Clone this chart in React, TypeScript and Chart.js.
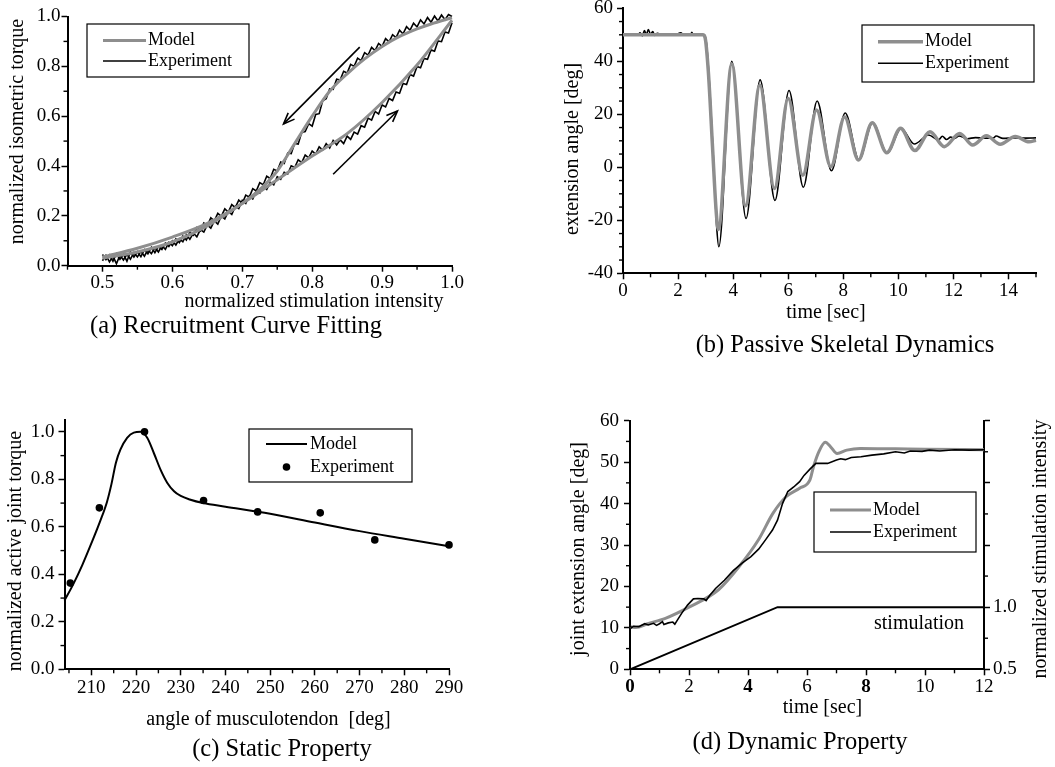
import React, { useEffect, useRef } from "react";
import { Chart, registerables } from "chart.js";
Chart.register(...registerables);

// ---------------- data ----------------
// (a) Recruitment curve fitting
const aModelUpX = [0.5, 0.55, 0.6, 0.65, 0.7, 0.75, 0.8, 0.85, 0.9, 0.95, 1.0];
const aModelUpY = [0.035, 0.07, 0.115, 0.17, 0.25, 0.345, 0.44, 0.53, 0.655, 0.805, 0.985];
const aModelDownX = [0.5, 0.55, 0.6, 0.65, 0.7, 0.725, 0.75, 0.775, 0.8, 0.825, 0.85, 0.875, 0.9, 0.925, 0.95, 0.97, 1.0];
const aModelDownY = [0.03, 0.055, 0.095, 0.16, 0.25, 0.305, 0.38, 0.49, 0.6, 0.7, 0.77, 0.83, 0.88, 0.92, 0.95, 0.97, 0.995];
const aExpX = [
  0.5, 0.505, 0.51, 0.515, 0.52, 0.525, 0.53, 0.535, 0.54, 0.545, 0.55, 0.555, 0.56, 0.565, 0.57, 0.575, 0.58, 0.585, 0.59, 0.595,
  0.6, 0.605, 0.61, 0.615, 0.62, 0.625, 0.63, 0.635, 0.64, 0.645, 0.65, 0.655, 0.66, 0.665, 0.67, 0.675, 0.68, 0.685, 0.69, 0.695,
  0.7, 0.705, 0.71, 0.715, 0.72, 0.725, 0.73, 0.735, 0.74, 0.745, 0.75, 0.755, 0.76, 0.765, 0.77, 0.775, 0.78, 0.785, 0.79, 0.795,
  0.8, 0.805, 0.81, 0.815, 0.82, 0.825, 0.83, 0.835, 0.84, 0.845, 0.85, 0.855, 0.86, 0.865, 0.87, 0.875, 0.88, 0.885, 0.89, 0.895,
  0.9, 0.905, 0.91, 0.915, 0.92, 0.925, 0.93, 0.935, 0.94, 0.945, 0.95, 0.955, 0.96, 0.965, 0.97, 0.975, 0.98, 0.985, 0.99, 0.995,
  1.0,
];
const aExpUpY = [
  0.045, 0.024, 0.043, 0.018, 0.048, 0.026, 0.046, 0.018, 0.055, 0.035, 0.056, 0.036, 0.064, 0.048, 0.074, 0.052, 0.077, 0.065, 0.091, 0.077,
  0.1, 0.083, 0.108, 0.096, 0.124, 0.106, 0.131, 0.116, 0.145, 0.135, 0.164, 0.151, 0.18, 0.167, 0.2, 0.188, 0.218, 0.206, 0.238, 0.229,
  0.262, 0.25, 0.28, 0.268, 0.3, 0.291, 0.319, 0.306, 0.334, 0.325, 0.357, 0.347, 0.375, 0.368, 0.401, 0.394, 0.425, 0.414, 0.444, 0.433,
  0.46, 0.448, 0.477, 0.464, 0.49, 0.472, 0.502, 0.485, 0.505, 0.49, 0.52, 0.507, 0.536, 0.528, 0.562, 0.556, 0.592, 0.584, 0.619, 0.609,
  0.645, 0.637, 0.671, 0.663, 0.697, 0.692, 0.731, 0.727, 0.767, 0.761, 0.799, 0.794, 0.832, 0.828, 0.866, 0.861, 0.902, 0.899, 0.938, 0.934,
  0.975,
];
const aExpDownY = [
  0.02, 0.042, 0.015, 0.038, 0.008, 0.042, 0.023, 0.046, 0.026, 0.052, 0.035, 0.058, 0.038, 0.064, 0.048, 0.073, 0.055, 0.081, 0.066, 0.094,
  0.08, 0.108, 0.093, 0.119, 0.103, 0.134, 0.122, 0.153, 0.14, 0.171, 0.161, 0.192, 0.18, 0.21, 0.198, 0.228, 0.215, 0.245, 0.233, 0.263,
  0.25, 0.283, 0.275, 0.309, 0.3, 0.333, 0.325, 0.359, 0.35, 0.387, 0.38, 0.416, 0.41, 0.452, 0.45, 0.491, 0.488, 0.535, 0.538, 0.57,
  0.56, 0.607, 0.61, 0.662, 0.67, 0.71, 0.708, 0.748, 0.745, 0.78, 0.773, 0.808, 0.8, 0.833, 0.823, 0.855, 0.845, 0.876, 0.863, 0.892,
  0.88, 0.911, 0.898, 0.927, 0.915, 0.945, 0.93, 0.959, 0.945, 0.973, 0.958, 0.986, 0.97, 0.996, 0.977, 1.002, 0.982, 1.006, 0.987, 1.008,
  1.0,
];

// (b) Passive skeletal dynamics
const bModelT = [0, 2.9, 2.98, 3.1, 3.25, 3.38, 3.46, 3.95, 4.45, 4.97, 5.5, 6.0, 6.53, 7.03, 7.55, 8.05, 8.55, 9.05, 9.58, 10.08, 10.6, 11.15, 11.67, 12.23, 12.7, 13.2, 13.7, 14.25, 14.75, 15];
const bModelV = [50, 50, 49, 36, 8, -16, -23.5, 39, -14.5, 31, -8, 26, -3, 21.6, 0.2, 19, 2.8, 16.8, 5.5, 14.7, 6.3, 13.4, 7.8, 12.8, 8.4, 11.9, 8.7, 11.6, 9.6, 10.2];
const bExpT = [
  0, 0.55, 0.62, 0.7, 0.78, 0.85, 0.92, 1.0, 1.08, 1.15, 1.25, 1.4, 1.9, 2.1, 2.2, 2.45, 2.5, 2.55, 2.95, 3.03,
  3.15, 3.3, 3.4, 3.48, 3.95, 4.47, 4.98, 5.52, 6.03, 6.55, 7.05, 7.57, 8.07, 8.57, 9.07, 9.6, 10.1, 10.58, 11.1, 11.45,
  11.6, 11.75, 11.9, 12.05, 12.2, 12.5, 12.8, 13.1, 13.45, 13.55, 13.8, 14.2, 14.6, 15,
];
const bExpV = [
  50, 50, 50.8, 49.6, 51.6, 50, 52, 50.2, 51.2, 49.8, 50.6, 50, 50, 50.8, 50, 50, 50.9, 50, 50, 47,
  30, 0, -22, -30, 40, -19.3, 33, -12.5, 29, -7.5, 25, -1.3, 20.5, 2.8, 16.8, 5.3, 14.7, 8.8, 12.2, 10.3,
  11.7, 10.5, 11.4, 10.9, 11.8, 10.8, 11.2, 11.0, 11.0, 11.8, 10.9, 11.1, 11.0, 11.1,
];

// (c) Static property
const cModelX = [204, 206, 208, 210, 212, 213.5, 214.5, 215.5, 216.5, 218, 219.5, 221, 222.5, 224, 225.5, 227, 228.5, 230, 232, 235, 240, 250, 260, 270, 280, 290];
const cModelY = [0.29, 0.36, 0.44, 0.53, 0.625, 0.705, 0.78, 0.87, 0.925, 0.975, 0.997, 1.0, 0.975, 0.91, 0.84, 0.785, 0.75, 0.73, 0.715, 0.7, 0.685, 0.655, 0.618, 0.582, 0.55, 0.518];
const cExpX = [205.3, 211.8, 221.9, 235.1, 247.2, 261.2, 273.4, 290];
const cExpY = [0.363, 0.68, 1.0, 0.711, 0.663, 0.659, 0.545, 0.524];

// (d) Dynamic property
const dModelT = [0, 0.2, 0.6, 1.2, 2.0, 3.0, 3.7, 4.35, 4.85, 5.3, 5.75, 6.1, 6.22, 6.4, 6.62, 6.8, 7.02, 7.35, 7.8, 9, 10, 12];
const dModelV = [10.3, 10.1, 11.0, 12.3, 15.0, 19.2, 24.8, 31.2, 37.7, 41.7, 43.7, 45.7, 48.9, 52.5, 54.8, 53.7, 52.1, 52.9, 53.3, 53.2, 53.1, 53.0];
const dExpT = [
  0, 0.05, 0.12, 0.3, 0.5, 0.62, 0.8, 0.9, 1.0, 1.1, 1.15, 1.3, 1.45, 1.52, 1.6, 1.75, 1.95, 2.15, 2.3, 2.5,
  2.58, 2.7, 2.9, 3.2, 3.5, 3.8, 4.1, 4.36, 4.6, 4.83, 5.0, 5.17, 5.35, 5.55, 5.75, 5.9, 6.1, 6.3, 6.7, 7.0,
  7.14, 7.3, 7.5, 7.83, 8.2, 8.6, 9.0, 9.3, 9.5, 9.9, 10.15, 10.5, 11, 11.5, 12,
];
const dExpV = [
  10.6, 10.0, 10.4, 10.3, 11.0, 10.7, 11.1, 10.6, 11.0, 11.5, 10.8, 11.2, 11.4, 10.9, 11.8, 13.5, 15.5, 17.0, 17.1, 17.0,
  16.6, 17.8, 19.5, 21.5, 23.8, 25.6, 27.2, 29.0, 31.3, 33.6, 36.0, 40.0, 42.9, 44.0, 45.3, 46.8, 48.3, 49.7, 49.7, 50.5,
  50.8, 50.6, 51.1, 51.3, 51.7, 52.0, 52.5, 52.2, 52.7, 52.6, 52.9, 52.7, 53.0, 52.9, 53.0,
];
const dStimT = [0, 5, 12];
const dStimV = [0.5, 1.0, 1.0];

// tick values
const aXMajor = [0.5, 0.6, 0.7, 0.8, 0.9, 1.0];
const aXMinor = [0.45, 0.55, 0.65, 0.75, 0.85, 0.95];
const aYMajor = [0, 0.2, 0.4, 0.6, 0.8, 1.0];
const aYMinor = [0.1, 0.3, 0.5, 0.7, 0.9];
const bXMajor = [0, 2, 4, 6, 8, 10, 12, 14];
const bXMinor = [1, 3, 5, 7, 9, 11, 13, 15];
const bYMajor = [-40, -20, 0, 20, 40, 60];
const bYMinor = [-35, -30, -25, -15, -10, -5, 5, 10, 15, 25, 30, 35, 45, 50, 55];
const cXMajor = [210, 220, 230, 240, 250, 260, 270, 280, 290];
const cXMinor = [205, 215, 225, 235, 245, 255, 265, 275, 285];
const cYMajor = [0, 0.2, 0.4, 0.6, 0.8, 1.0];
const cYMinor = [0.1, 0.3, 0.5, 0.7, 0.9];
const dXMajor = [0, 2, 4, 6, 8, 10, 12];
const dXBold = [0, 4, 8];
const dXMinor = [1, 3, 5, 7, 9, 11];
const dYMajor = [0, 10, 20, 30, 40, 50, 60];
const dYMinor = [5, 15, 25, 35, 45, 55];
const dY2Major = [0.5, 1.0, 1.5, 2.0, 2.5];
const dY2Labeled = [0.5, 1.0];
const dY2Minor = [0.75, 1.25, 1.75, 2.25];

// ---------------- styling / layout ----------------
const PAGE_W = 1055;
const PAGE_H = 767;
const OFF = 50;
const CW = PAGE_W + 2 * OFF;
const CH = PAGE_H + 2 * OFF;
const SERIF = '"Liberation Serif", "Times New Roman", Times, serif';
const GRAY = "#8e8e8e";
const INK = "#000";
const TICK = 19;
const TITLE = 20;
const CAP = 24.5;
const LEG = 18;

const pts = (xs: number[], ys: number[]) => xs.map((x, i) => ({ x, y: ys[i] }));

type Txt = { t: string; x: number; y: number; size: number; rot?: number; weight?: string };
type Deco = {
  minor?: { axis: string; values: number[]; len: number }[];
  texts?: Txt[];
  legend?: { box: [number, number, number, number]; x1: number; x2: number; tx: number; rows: { ds: number; y: number }[] };
  arrows?: { from: [number, number]; to: [number, number] }[];
};

function decoPlugin(d: Deco) {
  return {
    id: "deco",
    afterDraw(chart: any) {
      const ctx = chart.ctx as CanvasRenderingContext2D;
      ctx.save();
      ctx.strokeStyle = INK;
      ctx.fillStyle = INK;
      (d.minor || []).forEach((m) => {
        const s = chart.scales[m.axis];
        ctx.lineWidth = 1.4;
        m.values.forEach((v) => {
          const p = s.getPixelForValue(v);
          ctx.beginPath();
          if (s.isHorizontal()) {
            ctx.moveTo(p, s.top);
            ctx.lineTo(p, s.top + m.len);
          } else if (s.position === "left") {
            ctx.moveTo(s.right, p);
            ctx.lineTo(s.right - m.len, p);
          } else {
            ctx.moveTo(s.left, p);
            ctx.lineTo(s.left + m.len, p);
          }
          ctx.stroke();
        });
      });
      (d.arrows || []).forEach((a) => {
        const xs = chart.scales.x;
        const ys = chart.scales.y;
        const x1 = xs.getPixelForValue(a.from[0]);
        const y1 = ys.getPixelForValue(a.from[1]);
        const x2 = xs.getPixelForValue(a.to[0]);
        const y2 = ys.getPixelForValue(a.to[1]);
        ctx.lineWidth = 1.6;
        ctx.beginPath();
        ctx.moveTo(x1, y1);
        ctx.lineTo(x2, y2);
        ctx.stroke();
        const ang = Math.atan2(y2 - y1, x2 - x1);
        const L = 12;
        const sp = 0.38;
        ctx.beginPath();
        ctx.moveTo(x2 - L * Math.cos(ang - sp), y2 - L * Math.sin(ang - sp));
        ctx.lineTo(x2, y2);
        ctx.lineTo(x2 - L * Math.cos(ang + sp), y2 - L * Math.sin(ang + sp));
        ctx.stroke();
      });
      ctx.translate(OFF, OFF);
      if (d.legend) {
        const g = d.legend;
        const [bx1, by1, bx2, by2] = g.box;
        ctx.fillStyle = "#fff";
        ctx.fillRect(bx1, by1, bx2 - bx1, by2 - by1);
        ctx.strokeStyle = INK;
        ctx.lineWidth = 1.2;
        ctx.strokeRect(bx1, by1, bx2 - bx1, by2 - by1);
        g.rows.forEach((r) => {
          const ds = chart.data.datasets[r.ds];
          if (ds.showLine === false) {
            ctx.fillStyle = ds.pointBackgroundColor || INK;
            ctx.beginPath();
            ctx.arc((g.x1 + g.x2) / 2, r.y, ds.pointRadius || 3, 0, Math.PI * 2);
            ctx.fill();
          } else {
            ctx.strokeStyle = ds.borderColor;
            ctx.lineWidth = ds.borderWidth;
            ctx.beginPath();
            ctx.moveTo(g.x1, r.y);
            ctx.lineTo(g.x2, r.y);
            ctx.stroke();
          }
          ctx.fillStyle = INK;
          ctx.font = `${LEG}px ${SERIF}`;
          ctx.textAlign = "left";
          ctx.textBaseline = "middle";
          ctx.fillText(ds.label, g.tx, r.y);
        });
      }
      (d.texts || []).forEach((t) => {
        ctx.save();
        ctx.fillStyle = INK;
        ctx.font = `${t.weight || "normal"} ${t.size}px ${SERIF}`;
        ctx.textAlign = "center";
        ctx.textBaseline = "middle";
        ctx.translate(t.x, t.y);
        if (t.rot) ctx.rotate(t.rot);
        ctx.fillText(t.t, 0, 0);
        ctx.restore();
      });
      ctx.restore();
    },
  };
}

function axis(min: number, max: number, majors: number[], fmt: (v: number) => string, extra: any = {}) {
  return {
    type: "linear",
    min,
    max,
    afterBuildTicks: (s: any) => {
      s.ticks = majors.map((v) => ({ value: v }));
    },
    ticks: {
      callback: (v: any) => fmt(Number(v)),
      font: { family: SERIF, size: TICK },
      color: INK,
      padding: 1,
      maxRotation: 0,
      minRotation: 0,
      autoSkip: false,
    },
    grid: { display: true, drawOnChartArea: false, drawTicks: true, tickLength: 6, tickColor: INK, tickWidth: 1.5 },
    border: { display: true, color: INK, width: 2 },
    ...extra,
  };
}

const tickOpts = (fmt: (v: number) => string, padding: number, extra: any = {}) => ({
  callback: (v: any) => fmt(Number(v)),
  font: { family: SERIF, size: TICK },
  color: INK,
  padding,
  maxRotation: 0,
  minRotation: 0,
  autoSkip: false,
  ...extra,
});

type Area = { L: number; R: number; T: number; B: number; right2?: number };

function frame(a: Area) {
  const r2 = a.right2 || 0;
  return {
    padding: { left: OFF, top: OFF + a.T, right: CW - (OFF + a.R) - r2, bottom: 0 },
    xFit: (s: any) => {
      s.height = CH - (OFF + a.B);
    },
    yFit: (s: any) => {
      s.width = a.L;
    },
    y2Fit: (s: any) => {
      s.width = r2;
    },
  };
}

const baseOpts = (padding: any) => ({
  animation: false,
  responsive: false,
  devicePixelRatio: 1,
  events: [],
  layout: { padding },
  plugins: { legend: { display: false }, tooltip: { enabled: false } },
});

const f1 = (v: number) => v.toFixed(1);
const f0 = (v: number) => String(Math.round(v));

function configA(): any {
  const fr = frame({ L: 67.5, R: 452, T: 16.5, B: 265.7 });
  return {
    type: "line",
    data: {
      datasets: [
        { label: "Model", data: pts(aModelUpX, aModelUpY), borderColor: GRAY, borderWidth: 3, pointRadius: 0, cubicInterpolationMode: "monotone", clip: false },
        { label: "Model", data: pts(aModelDownX, aModelDownY), borderColor: GRAY, borderWidth: 3, pointRadius: 0, cubicInterpolationMode: "monotone", clip: false },
        { label: "Experiment", data: pts(aExpX, aExpUpY), borderColor: INK, borderWidth: 1.6, pointRadius: 0, tension: 0, clip: false },
        { label: "Experiment", data: pts(aExpX, aExpDownY), borderColor: INK, borderWidth: 1.6, pointRadius: 0, tension: 0, clip: false },
      ],
    },
    options: {
      ...baseOpts(fr.padding),
      scales: {
        x: axis(0.45, 1.0, aXMajor, f1, { afterFit: fr.xFit, ticks: tickOpts(f1, 0) }),
        y: axis(0, 1.0, aYMajor, f1, { afterFit: fr.yFit, ticks: tickOpts(f1, 1) }),
      },
    },
    plugins: [
      decoPlugin({
        minor: [
          { axis: "x", values: aXMinor, len: 4 },
          { axis: "y", values: aYMinor, len: 4 },
        ],
        arrows: [
          { from: [0.868, 0.877], to: [0.759, 0.569] },
          { from: [0.83, 0.367], to: [0.922, 0.621] },
        ],
        legend: { box: [87, 24, 249, 77], x1: 103, x2: 146, tx: 148, rows: [{ ds: 0, y: 40.5 }, { ds: 2, y: 61 }] },
        texts: [
          { t: "normalized isometric torque", x: 18, y: 131.5, size: TITLE, rot: -Math.PI / 2 },
          { t: "normalized stimulation intensity", x: 314, y: 302, size: TITLE },
          { t: "(a) Recruitment Curve Fitting", x: 236, y: 327, size: CAP },
        ],
      }),
    ],
  };
}

function configB(): any {
  const fr = frame({ L: 623, R: 1036, T: 8.3, B: 273.3 });
  return {
    type: "line",
    data: {
      datasets: [
        { label: "Model", data: pts(bModelT, bModelV), borderColor: GRAY, borderWidth: 3.5, pointRadius: 0, cubicInterpolationMode: "monotone", clip: false },
        { label: "Experiment", data: pts(bExpT, bExpV), borderColor: INK, borderWidth: 1.6, pointRadius: 0, cubicInterpolationMode: "monotone", clip: false },
      ],
    },
    options: {
      ...baseOpts(fr.padding),
      scales: {
        x: axis(0, 15, bXMajor, f0, { afterFit: fr.xFit, ticks: tickOpts(f0, 0) }),
        y: axis(-40, 60, bYMajor, f0, { afterFit: fr.yFit, ticks: tickOpts(f0, 4) }),
      },
    },
    plugins: [
      decoPlugin({
        minor: [
          { axis: "x", values: bXMinor, len: 4 },
          { axis: "y", values: bYMinor, len: 4 },
        ],
        legend: { box: [862, 25, 1034, 82], x1: 878, x2: 923, tx: 925, rows: [{ ds: 0, y: 41.7 }, { ds: 1, y: 63.3 }] },
        texts: [
          { t: "extension angle [deg]", x: 572.5, y: 149, size: TITLE, rot: -Math.PI / 2 },
          { t: "time [sec]", x: 826, y: 313, size: TITLE },
          { t: "(b) Passive Skeletal Dynamics", x: 845, y: 346, size: CAP },
        ],
      }),
    ],
  };
}

function configC(): any {
  const fr = frame({ L: 64.5, R: 449, T: 420, B: 669.3 });
  return {
    type: "line",
    data: {
      datasets: [
        { label: "Model", data: pts(cModelX, cModelY), borderColor: INK, borderWidth: 2, pointRadius: 0, cubicInterpolationMode: "monotone", clip: false },
        { label: "Experiment", data: pts(cExpX, cExpY), showLine: false, pointRadius: 3.8, pointBackgroundColor: INK, pointBorderColor: INK, pointBorderWidth: 0, clip: false },
      ],
    },
    options: {
      ...baseOpts(fr.padding),
      scales: {
        x: axis(204, 290, cXMajor, f0, { afterFit: fr.xFit, ticks: tickOpts(f0, 1) }),
        y: axis(0, 1.05, cYMajor, f1, { afterFit: fr.yFit, ticks: tickOpts(f1, 4) }),
      },
    },
    plugins: [
      decoPlugin({
        minor: [
          { axis: "x", values: cXMinor, len: 4 },
          { axis: "y", values: cYMinor, len: 4 },
        ],
        legend: { box: [249, 429, 412, 482], x1: 266, x2: 307, tx: 310, rows: [{ ds: 0, y: 444 }, { ds: 1, y: 467 }] },
        texts: [
          { t: "normalized active joint torque", x: 16, y: 551, size: TITLE, rot: -Math.PI / 2 },
          { t: "angle of musculotendon  [deg]", x: 268.5, y: 720, size: TITLE },
          { t: "(c) Static Property", x: 282, y: 750, size: CAP },
        ],
      }),
    ],
  };
}

function configD(): any {
  const fr = frame({ L: 630, R: 984, T: 420.7, B: 669.3, right2: 60 });
  const xTicks = tickOpts(f0, 0, {
    font: (c: any) => ({ family: SERIF, size: TICK, weight: c.tick && dXBold.includes(c.tick.value) ? "bold" : "normal" }),
  });
  const y2Fmt = (v: number) => (dY2Labeled.includes(v) ? v.toFixed(1) : "");
  return {
    type: "line",
    data: {
      datasets: [
        { label: "Model", data: pts(dModelT, dModelV), borderColor: GRAY, borderWidth: 3, pointRadius: 0, cubicInterpolationMode: "monotone", clip: false, order: 2 },
        { label: "Experiment", data: pts(dExpT, dExpV), borderColor: INK, borderWidth: 1.6, pointRadius: 0, tension: 0, clip: false, order: 1 },
        { label: "stimulation", data: pts(dStimT, dStimV), yAxisID: "y2", borderColor: INK, borderWidth: 2, pointRadius: 0, tension: 0, clip: false, order: 0 },
      ],
    },
    options: {
      ...baseOpts(fr.padding),
      scales: {
        x: axis(0, 12, dXMajor, f0, { afterFit: fr.xFit, ticks: xTicks }),
        y: axis(0, 60, dYMajor, f0, { afterFit: fr.yFit, ticks: tickOpts(f0, 5) }),
        y2: axis(0.5, 2.5, dY2Major, y2Fmt, { position: "right", afterFit: fr.y2Fit, ticks: tickOpts(y2Fmt, 3) }),
      },
    },
    plugins: [
      decoPlugin({
        minor: [
          { axis: "x", values: dXMinor, len: 4 },
          { axis: "y", values: dYMinor, len: 4 },
          { axis: "y2", values: dY2Minor, len: 4 },
        ],
        legend: { box: [814, 492, 976, 552], x1: 830, x2: 871, tx: 873, rows: [{ ds: 0, y: 510 }, { ds: 1, y: 532 }] },
        texts: [
          { t: "joint extension angle [deg]", x: 579, y: 549, size: TITLE, rot: -Math.PI / 2 },
          { t: "normalized stimulation intensity", x: 1041, y: 549, size: TITLE, rot: -Math.PI / 2 },
          { t: "time [sec]", x: 822.5, y: 708, size: TITLE },
          { t: "stimulation", x: 919, y: 623.5, size: TITLE },
          { t: "(d) Dynamic Property", x: 800, y: 743, size: CAP },
        ],
      }),
    ],
  };
}

const CONFIGS = [configA, configB, configC, configD];

export default function App() {
  const canvases = useRef<(HTMLCanvasElement | null)[]>([]);
  useEffect(() => {
    const charts = CONFIGS.map((mk, i) => new Chart(canvases.current[i] as HTMLCanvasElement, mk()));
    return () => charts.forEach((c) => c.destroy());
  }, []);
  return (
    <div style={{ position: "relative", width: PAGE_W, height: PAGE_H, overflow: "hidden", background: "#fff" }}>
      <style>{`html,body{margin:0;padding:0;background:#fff;}`}</style>
      {CONFIGS.map((_, i) => (
        <canvas
          key={i}
          ref={(el) => {
            canvases.current[i] = el;
          }}
          width={CW}
          height={CH}
          style={{ position: "absolute", left: -OFF, top: -OFF, width: CW, height: CH }}
        />
      ))}
    </div>
  );
}
